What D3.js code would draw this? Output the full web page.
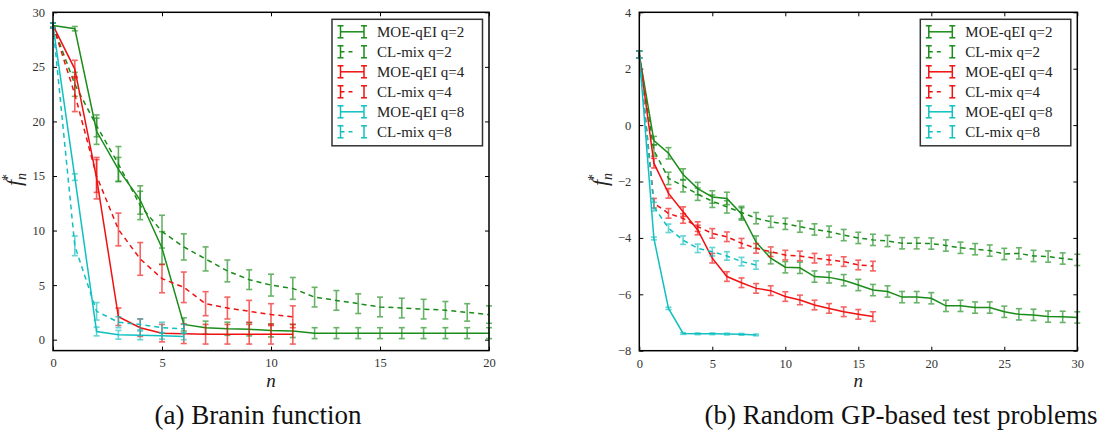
<!DOCTYPE html>
<html>
<head>
<meta charset="utf-8">
<script src="https://cdn.jsdelivr.net/npm/d3@7"></script>
<style>
  body { margin: 0; background: #fff; }
  svg { display: block; }
</style>
</head>
<body>
<div id="chart"></div>
<script>
var width = 1099,
height = 438;

// series labels (legend order = draw order)
var seriesNames = ['MOE-qEI q=2', 'CL-mix q=2', 'MOE-qEI q=4', 'CL-mix q=4', 'MOE-qEI q=8', 'CL-mix q=8'];
var seriesColors = ['#1a8c1a', '#1a8c1a', '#f01010', '#f01010', '#10c0c0', '#10c0c0'];
var seriesDashed = [false, true, false, true, false, true];

// (a) Branin function, value at n = index
var braninMoeQ2 = [28.8, 28.5, 19.1, 15.6, 12.8, 8.4, 1.4, 1.1, 1.0, 0.95, 0.85, 0.8, 0.6, 0.6, 0.6, 0.6, 0.6, 0.6, 0.6, 0.6, 0.6];
var braninMoeQ2Err = [0.2, 0.2, 1.2, 1.1, 1.3, 1.5, 0.6, 0.6, 0.6, 0.6, 0.6, 0.6, 0.5, 0.5, 0.5, 0.5, 0.5, 0.5, 0.5, 0.5, 0.5];
var braninClQ2 = [28.8, 23.4, 19.6, 16.1, 12.3, 9.9, 8.5, 7.4, 6.3, 5.5, 5.0, 4.7, 3.9, 3.6, 3.3, 3.0, 2.9, 2.8, 2.7, 2.5, 2.3];
var braninClQ2Err = [0.2, 1.1, 1.0, 1.6, 1.3, 1.5, 1.2, 1.1, 1.0, 0.9, 1.0, 1.0, 0.9, 0.9, 0.9, 0.9, 0.9, 0.9, 0.8, 0.8, 0.8];
var braninMoeQ4 = [28.8, 24.8, 14.8, 2.1, 1.1, 0.6, 0.55, 0.5, 0.5, 0.5, 0.5, 0.5];
var braninMoeQ4Err = [0.2, 0.8, 1.9, 0.8, 0.8, 0.8, 0.9, 0.9, 0.9, 0.9, 0.9, 0.9];
var braninClQ4 = [28.8, 22.5, 15.0, 10.1, 7.4, 5.6, 4.8, 3.3, 2.9, 2.6, 2.3, 2.1];
var braninClQ4Err = [0.2, 1.6, 1.5, 1.5, 1.5, 1.3, 1.4, 1.1, 1.0, 1.0, 1.0, 1.0];
var braninMoeQ8 = [28.8, 14.9, 0.75, 0.45, 0.4, 0.35, 0.3];
var braninMoeQ8Err = [0.2, 0.3, 0.4, 0.4, 0.4, 0.3, 0.3];
var braninClQ8 = [28.8, 8.6, 2.6, 1.6, 1.4, 1.1, 1.0];
var braninClQ8Err = [0.2, 0.9, 0.8, 0.5, 0.5, 0.5, 0.4];

// (b) Random GP-based test problems
var gpMoeQ2 = [2.5, -0.55, -1.0, -1.75, -2.25, -2.55, -2.6, -3.15, -4.15, -4.72, -5.04, -5.06, -5.37, -5.4, -5.5, -5.67, -5.85, -5.9, -6.1, -6.1, -6.14, -6.41, -6.41, -6.47, -6.47, -6.62, -6.71, -6.73, -6.79, -6.8, -6.82];
var gpMoeQ2Err = [0.12, 0.15, 0.2, 0.2, 0.22, 0.22, 0.22, 0.22, 0.22, 0.2, 0.2, 0.2, 0.2, 0.2, 0.2, 0.2, 0.2, 0.2, 0.2, 0.2, 0.2, 0.2, 0.2, 0.2, 0.2, 0.2, 0.2, 0.2, 0.2, 0.2, 0.2];
var gpClQ2 = [2.5, -0.9, -1.89, -2.15, -2.45, -2.7, -2.9, -3.1, -3.3, -3.43, -3.5, -3.6, -3.7, -3.78, -3.9, -4.0, -4.07, -4.11, -4.19, -4.19, -4.2, -4.27, -4.35, -4.4, -4.45, -4.57, -4.55, -4.64, -4.66, -4.73, -4.78];
var gpClQ2Err = [0.12, 0.2, 0.22, 0.22, 0.22, 0.22, 0.22, 0.22, 0.2, 0.2, 0.2, 0.2, 0.2, 0.2, 0.2, 0.2, 0.2, 0.2, 0.2, 0.2, 0.2, 0.2, 0.2, 0.2, 0.2, 0.2, 0.2, 0.2, 0.2, 0.2, 0.2];
var gpMoeQ4 = [2.5, -1.35, -2.42, -3.07, -3.72, -4.72, -5.37, -5.59, -5.79, -5.87, -6.08, -6.2, -6.38, -6.5, -6.62, -6.71, -6.79];
var gpMoeQ4Err = [0.12, 0.17, 0.17, 0.17, 0.17, 0.17, 0.17, 0.17, 0.17, 0.17, 0.17, 0.17, 0.17, 0.17, 0.17, 0.17, 0.17];
var gpClQ4 = [2.5, -2.77, -3.13, -3.31, -3.6, -3.84, -3.96, -4.19, -4.37, -4.49, -4.61, -4.64, -4.72, -4.78, -4.84, -4.96, -5.0];
var gpClQ4Err = [0.12, 0.17, 0.17, 0.17, 0.17, 0.17, 0.17, 0.17, 0.17, 0.17, 0.17, 0.17, 0.17, 0.17, 0.17, 0.17, 0.17];
var gpMoeQ8 = [2.5, -4.02, -6.5, -7.39, -7.4, -7.4, -7.41, -7.42, -7.44];
var gpMoeQ8Err = [0.12, 0.05, 0.04, 0.03, 0.03, 0.03, 0.03, 0.03, 0.03];
var gpClQ8 = [2.5, -2.89, -3.66, -4.08, -4.37, -4.49, -4.64, -4.84, -4.96];
var gpClQ8Err = [0.12, 0.15, 0.15, 0.15, 0.15, 0.15, 0.15, 0.15, 0.15];

// axis ticks
var braninXTicks = [0, 5, 10, 15, 20];
var braninYTicks = [0, 5, 10, 15, 20, 25, 30];
var gpXTicks = [0, 5, 10, 15, 20, 25, 30];
var gpYTicks = [-8, -6, -4, -2, 0, 2, 4];

var panels = [
  {left: 53, right: 489, top: 12.3, bottom: 350.6, xDomain: [0, 20], yDomain: [-1, 30],
   xTicks: braninXTicks, yTicks: braninYTicks, caption: '(a) Branin function', captionX: 258,
   series: [[braninMoeQ2, braninMoeQ2Err], [braninClQ2, braninClQ2Err], [braninMoeQ4, braninMoeQ4Err],
            [braninClQ4, braninClQ4Err], [braninMoeQ8, braninMoeQ8Err], [braninClQ8, braninClQ8Err]]},
  {left: 639.3, right: 1077.3, top: 12.3, bottom: 350.7, xDomain: [0, 30], yDomain: [-8, 4],
   xTicks: gpXTicks, yTicks: gpYTicks, caption: '(b) Random GP-based test problems', captionX: 901,
   series: [[gpMoeQ2, gpMoeQ2Err], [gpClQ2, gpClQ2Err], [gpMoeQ4, gpMoeQ4Err],
            [gpClQ4, gpClQ4Err], [gpMoeQ8, gpMoeQ8Err], [gpClQ8, gpClQ8Err]]}
];

const svg = d3.select('#chart').
append('svg').
attr('width', width).
attr('height', height);

const serifFont = "'Liberation Serif', serif";
const minus = d => String(d).replace('-', '\u2212');

panels.forEach(p => {
  const xScale = d3.scaleLinear().domain(p.xDomain).range([p.left, p.right]);
  const yScale = d3.scaleLinear().domain(p.yDomain).range([p.bottom, p.top]);
  const g = svg.append('g');

  // axes: ticks inside on all four sides
  const xBottom = d3.axisBottom(xScale).tickValues(p.xTicks).tickSizeInner(-4).tickSizeOuter(0).tickPadding(8).tickFormat(minus);
  const xTop = d3.axisTop(xScale).tickValues(p.xTicks).tickSizeInner(-4).tickSizeOuter(0).tickFormat('');
  const yLeft = d3.axisLeft(yScale).tickValues(p.yTicks).tickSizeInner(-4).tickSizeOuter(0).tickPadding(8).tickFormat(minus);
  const yRight = d3.axisRight(yScale).tickValues(p.yTicks).tickSizeInner(-4).tickSizeOuter(0).tickFormat('');

  [[xBottom, 'translate(0,' + p.bottom + ')'], [xTop, 'translate(0,' + p.top + ')'],
   [yLeft, 'translate(' + p.left + ',0)'], [yRight, 'translate(' + p.right + ',0)']].forEach(a => {
    const ax = g.append('g').attr('transform', a[1]).call(a[0]);
    ax.attr('font-family', null).attr('font-size', null);
    ax.select('.domain').remove();
    ax.selectAll('line').attr('stroke', '#000').attr('stroke-width', 1);
    ax.selectAll('text').style('font-family', serifFont).style('font-size', '12.5px').attr('fill', '#333');
  });

  // series
  p.series.forEach((s, si) => {
    const vals = s[0], errs = s[1];
    const color = seriesColors[si];
    const pts = vals.map((v, i) => ({n: i, v: v, e: errs[i]}));

    const bars = g.append('g').attr('stroke', color).attr('stroke-width', 1.6).attr('opacity', 0.65);
    bars.selectAll('.eb').data(pts).enter().append('line').
    attr('x1', d => xScale(d.n)).attr('x2', d => xScale(d.n)).
    attr('y1', d => yScale(d.v - d.e)).attr('y2', d => yScale(d.v + d.e));
    bars.selectAll('.capt').data(pts).enter().append('line').
    attr('x1', d => xScale(d.n) - 3).attr('x2', d => xScale(d.n) + 3).
    attr('y1', d => yScale(d.v + d.e)).attr('y2', d => yScale(d.v + d.e));
    bars.selectAll('.capb').data(pts).enter().append('line').
    attr('x1', d => xScale(d.n) - 3).attr('x2', d => xScale(d.n) + 3).
    attr('y1', d => yScale(d.v - d.e)).attr('y2', d => yScale(d.v - d.e));

    const line = d3.line().x(d => xScale(d.n)).y(d => yScale(d.v));
    g.append('path').datum(pts).
    attr('d', line).
    attr('fill', 'none').
    attr('stroke', color).
    attr('stroke-width', 1.5).
    attr('stroke-dasharray', seriesDashed[si] ? '5,4' : null);
  });

  // frame
  g.append('rect').
  attr('x', p.left).attr('y', p.top).
  attr('width', p.right - p.left).attr('height', p.bottom - p.top).
  attr('fill', 'none').attr('stroke', '#000').attr('stroke-width', 1.5);

  // legend
  const lx = p.right - 157, ly = p.top + 7;
  const leg = g.append('g').attr('transform', 'translate(' + lx + ',' + ly + ')');
  leg.append('rect').attr('width', 150.5).attr('height', 126.5).
  attr('fill', '#fff').attr('stroke', '#333').attr('stroke-width', 1.5);
  seriesNames.forEach((name, i) => {
    const cy = 12.5 + i * 20;
    const color = seriesColors[i];
    const sym = leg.append('g').attr('stroke', color).attr('stroke-width', 1.5);
    sym.append('line').attr('x1', 8.5).attr('x2', 32).attr('y1', cy).attr('y2', cy).
    attr('stroke-dasharray', seriesDashed[i] ? '4,4,4,12' : null);
    [8.5, 32].forEach(ex => {
      sym.append('line').attr('x1', ex).attr('x2', ex).attr('y1', cy - 6).attr('y2', cy + 6);
      sym.append('line').attr('x1', ex - 3).attr('x2', ex + 3).attr('y1', cy - 6).attr('y2', cy - 6);
      sym.append('line').attr('x1', ex - 3).attr('x2', ex + 3).attr('y1', cy + 6).attr('y2', cy + 6);
    });
    leg.append('text').attr('x', 45).attr('y', cy + 5).
    style('font-family', serifFont).style('font-size', '15px').attr('fill', '#222').
    text(name);
  });

  // axis labels
  const cx = (p.left + p.right) / 2;
  svg.append('text').attr('x', cx).attr('y', 387).
  attr('text-anchor', 'middle').style('font-family', serifFont).attr('font-style', 'italic').
  style('font-size', '19px').attr('fill', '#222').text('n');

  const yl = svg.append('text').
  attr('transform', 'translate(' + (p.left - 32) + ',' + 186 + ') rotate(-90)').
  style('font-family', serifFont).attr('font-style', 'italic').
  style('font-size', '22px').attr('fill', '#222');
  yl.append('tspan').text('f');
  yl.append('tspan').style('font-size', '14px').attr('dx', 0).attr('dy', 5).text('n');
  yl.append('tspan').style('font-size', '14px').attr('dx', -8).attr('dy', -14).attr('font-style', 'normal').text('*');

  // caption
  svg.append('text').attr('x', p.captionX).attr('y', 424).
  attr('text-anchor', 'middle').style('font-family', serifFont).
  style('font-size', '27px').attr('fill', '#111').text(p.caption);
});
</script>
</body>
</html>
